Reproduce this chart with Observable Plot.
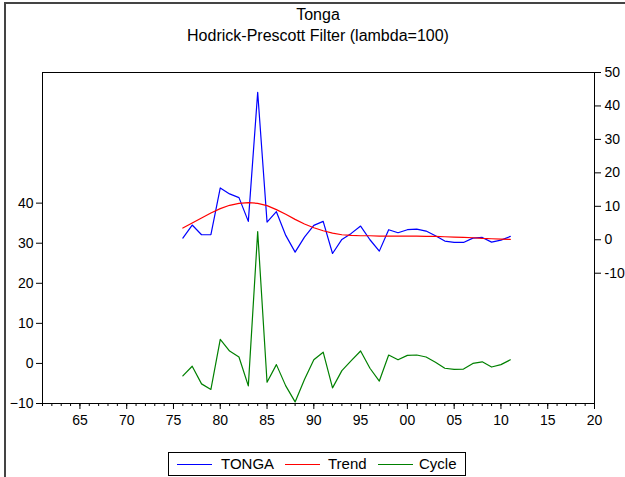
<!DOCTYPE html>
<html><head><meta charset="utf-8">
<script src="https://cdn.jsdelivr.net/npm/d3@7"></script>
<script src="https://cdn.jsdelivr.net/npm/@observablehq/plot@0.6"></script>
<style>
body{margin:0;background:#fff;}
#wrap{position:relative;width:625px;height:477px;overflow:hidden;font-family:"Liberation Sans",Arial,sans-serif;color:#000;}
#border{position:absolute;left:4px;top:2px;width:700px;height:600px;border-left:2px solid #444;border-top:2px solid #444;}
.title{position:absolute;left:0;width:636px;text-align:center;font-size:16px;line-height:18px;}
#chart{position:absolute;left:0;top:0;}
#legend{position:absolute;left:168px;top:452px;width:296px;height:22px;border:1px solid #000;box-sizing:content-box;font-size:15px;}
#legend .sw{position:absolute;top:11px;height:0;border-top:1px solid;width:35px;}
#legend .lb{position:absolute;top:2px;line-height:18px;}
</style></head>
<body>
<div id="wrap">
  <div id="border"></div>
  <div class="title" style="top:6px">Tonga</div>
  <div class="title" style="top:27px">Hodrick-Prescott Filter (lambda=100)</div>
  <div id="chart"></div>
  <div id="legend">
    <div class="sw" style="left:8px;border-color:#0000ff"></div><div class="lb" style="left:52px">TONGA</div>
    <div class="sw" style="left:116px;border-color:#ff0000"></div><div class="lb" style="left:159px">Trend</div>
    <div class="sw" style="left:209px;border-color:#008000"></div><div class="lb" style="left:250px">Cycle</div>
  </div>
</div>
<script>
const years = d3.range(1976, 2012);
const tonga = [0.5, 4.4, 1.5, 1.5, 15.5, 13.7, 12.6, 5.5, 44.1, 5.3, 8.4, 1.3, -3.7, 0.8, 4.3, 5.5, -4.1, 0.1, 1.9, 4.1, 0.0, -3.4, 3.0, 2.1, 3.0, 3.2, 2.6, 1.2, -0.4, -0.8, -0.8, 0.5, 0.7, -0.7, -0.1, 1.0];
const trend = [3.5, 5.0, 6.5, 8.0, 9.3, 10.3, 10.9, 11.1, 10.9, 10.2, 9.0, 7.6, 6.1, 4.7, 3.6, 2.7, 2.0, 1.5, 1.3, 1.2, 1.2, 1.1, 1.1, 1.1, 1.1, 1.1, 1.0, 1.0, 0.9, 0.8, 0.7, 0.6, 0.4, 0.3, 0.2, 0.1];
const cycle = [-3.1, -0.7, -5.1, -6.5, 6.0, 3.1, 1.6, -5.6, 32.9, -4.7, -0.3, -5.6, -9.6, -4.0, 0.9, 2.8, -6.1, -1.8, 0.7, 3.1, -1.2, -4.4, 2.1, 0.9, 2.0, 2.1, 1.6, 0.3, -1.2, -1.5, -1.4, 0.0, 0.4, -0.9, -0.3, 0.9];
const leftTicks = [-10, 0, 10, 20, 30, 40];
const rightTicks = [-10, 0, 10, 20, 30, 40, 50];
const majorYears = d3.range(1965, 2021, 5);
const allYears = d3.range(1961, 2021);

// left scale domain (cycle) and right scale domain (series & trend)
const L = [-10, 72.6], R = [-48.95, 50];
const toL = v => L[0] + (v - R[0]) * (L[1] - L[0]) / (R[1] - R[0]);
const fromL = v => R[0] + (v - L[0]) * (R[1] - R[0]) / (L[1] - L[0]);

const rows = years.map((y, i) => ({year: y, tonga: tonga[i], trend: trend[i], cycle: cycle[i]}));

const chart = Plot.plot({
  width: 625, height: 477,
  marginLeft: 42, marginRight: 31, marginTop: 72, marginBottom: 74,
  style: {fontFamily: '"Liberation Sans", Arial, sans-serif', fontSize: "14px", color: "#000", background: "transparent"},
  x: {domain: [1961, 2020]},
  y: {domain: L},
  marks: [
    Plot.frame({stroke: "#000", strokeWidth: 1}),
    Plot.axisY({anchor: "left", ticks: leftTicks, tickSize: 6, tickPadding: 3, label: null, fontSize: 14}),
    Plot.axisY({anchor: "right", ticks: rightTicks.map(toL), tickFormat: d => String(Math.round(fromL(d))), tickSize: 6, tickPadding: 4, label: null, fontSize: 14}),
    Plot.axisX({ticks: allYears, tickSize: 3, tickFormat: () => "", label: null}),
    Plot.axisX({ticks: majorYears, tickSize: 6, tickPadding: 6, tickFormat: d => String(d % 100).padStart(2, "0"), label: null, fontSize: 14}),
    Plot.lineY(rows, {x: "year", y: d => toL(d.tonga), stroke: "#0000ff", strokeWidth: 1.2}),
    Plot.lineY(rows, {x: "year", y: d => toL(d.trend), stroke: "#ff0000", strokeWidth: 1.2}),
    Plot.lineY(rows, {x: "year", y: "cycle", stroke: "#008000", strokeWidth: 1.2})
  ]
});
document.getElementById("chart").appendChild(chart);
</script>
</body></html>
